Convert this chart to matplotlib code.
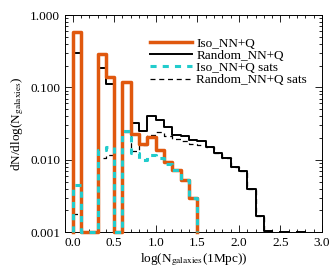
import numpy as np
import matplotlib
matplotlib.use("Agg")
import matplotlib.pyplot as plt
from matplotlib.ticker import MultipleLocator, FixedLocator, FuncFormatter, LogLocator, NullFormatter

plt.rcParams['font.family'] = ['Liberation Serif', 'DejaVu Serif']
plt.rcParams['mathtext.fontset'] = 'stix'

# histogram bins: width 0.1 in log(N), starting at 0.0
bin_start = 0.0
bin_width = 0.1

iso = [0.58, 0, 0, 0.29, 0.139, 0, 0.118, 0.023, 0.0164, 0.0207, 0.0136,
       0.0092, 0.0072, 0.0053, 0.0030]
rand = [0.30, 0, 0, 0.185, 0.111, 0, 0.115, 0.032, 0.025, 0.040, 0.036,
        0.028, 0.022, 0.021, 0.0185, 0.018, 0.015, 0.0123, 0.0106, 0.0079,
        0.0069, 0.0040, 0.00166, 0.00105, np.nan, 0.00101, np.nan, 0.00101]
iso_sats = [0.0045, 0, 0, 0.0137, 0.0149, 0, 0.025, 0.0125, 0.0098, 0.0115,
            0.0105, 0.0088, 0.0072, 0.0053, 0.0030]
rand_sats = [0.0018, 0, 0, 0.0107, 0.0118, 0, 0.024, 0.013, 0.016, 0.022,
             0.024, 0.021, 0.0195, 0.018, 0.0165, 0.0162, 0.015, 0.0123,
             0.0106, 0.0079, 0.0069, 0.0040, 0.00166, 0.00105]

labels = ['Iso_NN+Q', 'Random_NN+Q', 'Iso_NN+Q sats', 'Random_NN+Q sats']
ytick_vals = [0.001, 0.01, 0.1, 1.0]
xtick_vals = [0.0, 0.5, 1.0, 1.5, 2.0, 2.5, 3.0]

YMIN, YMAX = 0.001, 1.0

def step_xy(vals):
    v = np.asarray(vals, dtype=float)
    n = len(v)
    edges = bin_start + bin_width * np.arange(n + 1)
    v = np.where(np.isnan(v), np.nan, np.maximum(v, YMIN))
    x = np.repeat(edges, 2)
    y = np.concatenate([[YMIN], np.repeat(v, 2), [YMIN]])
    return x, y

fig = plt.figure(figsize=(3.32, 2.74), dpi=100)
ax = fig.add_axes([0.196, 0.153, 0.774, 0.792])

x, y = step_xy(rand)
l2, = ax.plot(x, y, color='black', lw=1.4, clip_on=False, zorder=2)
x, y = step_xy(rand_sats)
l4, = ax.plot(x, y, color='black', lw=0.9, ls=(0, (4, 3)), clip_on=False, zorder=3)
x, y = step_xy(iso)
l1, = ax.plot(x, y, color='#E0580E', lw=2.5, clip_on=False, zorder=4)
x, y = step_xy(iso_sats)
l3, = ax.plot(x, y, color='#22CCCC', lw=2.2, ls=(0, (2, 2)), clip_on=False, zorder=5)

ax.set_yscale('log')
ax.set_ylim(YMIN, YMAX)
ax.set_xlim(-0.09, 3.0)

ax.xaxis.set_major_locator(FixedLocator(xtick_vals))
ax.xaxis.set_minor_locator(MultipleLocator(0.1))
ax.yaxis.set_major_locator(FixedLocator(ytick_vals))
ax.yaxis.set_major_formatter(FuncFormatter(lambda v, p: '%.3f' % v))
ax.yaxis.set_minor_locator(LogLocator(base=10, subs=np.arange(2, 10)))
ax.yaxis.set_minor_formatter(NullFormatter())
ax.xaxis.set_major_formatter(FuncFormatter(lambda v, p: '%.1f' % v))

ax.tick_params(which='both', direction='in', top=True, right=True, labelsize=9.5, width=0.6)
ax.tick_params(which='major', length=5)
ax.tick_params(which='minor', length=2.5)
for s in ax.spines.values():
    s.set_linewidth(0.7)

ax.set_xlabel(r'log(N$_{\rm galaxies}$(1Mpc))', fontsize=9.5, labelpad=2)
ax.set_ylabel(r'dN/dlog(N$_{\rm galaxies}$)', fontsize=9.5, labelpad=3)

leg = ax.legend([l1, l2, l3, l4], labels, loc='upper left',
                bbox_to_anchor=(0.295, 0.94), frameon=False, fontsize=9.5,
                handlelength=3.2, handletextpad=0.3, labelspacing=0.0,
                borderpad=0.2)

fig.savefig('out.png', dpi=100)
